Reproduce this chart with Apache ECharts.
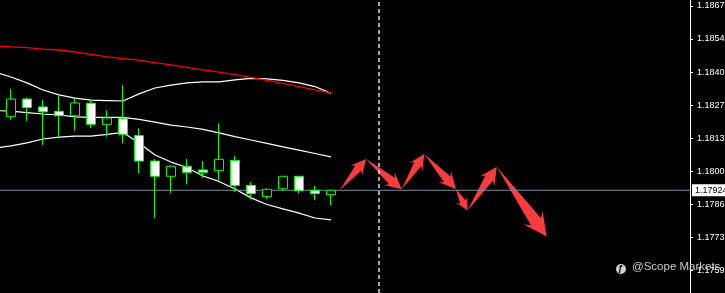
<!DOCTYPE html>
<html>
<head>
<meta charset="utf-8">
<script src="https://cdn.jsdelivr.net/npm/echarts/dist/echarts.min.js"></script>
<style>
  html, body { margin: 0; padding: 0; background: #000; }
  #chart { width: 725px; height: 293px; }
</style>
</head>
<body>
<div id="chart"></div>
<script>
// 蜡烛图 [open, close, low, high]
var candles = [
  [1.18223, 1.18243, 1.18215, 1.18251],
  [1.18224, 1.18296, 1.18211, 1.18337],
  [1.18296, 1.18261, 1.18207, 1.18302],
  [1.18264, 1.18244, 1.18109, 1.18292],
  [1.18246, 1.18228, 1.18139, 1.18310],
  [1.18228, 1.18280, 1.18167, 1.18299],
  [1.18279, 1.18193, 1.18177, 1.18296],
  [1.18193, 1.18219, 1.18143, 1.18251],
  [1.18218, 1.18152, 1.18116, 1.18353],
  [1.18147, 1.18043, 1.17993, 1.18177],
  [1.18043, 1.17981, 1.17810, 1.18052],
  [1.17981, 1.18022, 1.17912, 1.18027],
  [1.18022, 1.17997, 1.17948, 1.18052],
  [1.18007, 1.17997, 1.17974, 1.18043],
  [1.18004, 1.18050, 1.17966, 1.18197],
  [1.18046, 1.17943, 1.17917, 1.18064],
  [1.17944, 1.17910, 1.17887, 1.17958],
  [1.17898, 1.17928, 1.17889, 1.17932],
  [1.17930, 1.17981, 1.17922, 1.17981],
  [1.17981, 1.17922, 1.17910, 1.17981],
  [1.17924, 1.17910, 1.17884, 1.17942],
  [1.17906, 1.17924, 1.17864, 1.17924]
];
// 布林带
var upperBand = [1.18406, 1.18386, 1.18362, 1.18333, 1.18313, 1.18300, 1.18292, 1.18290, 1.18288, 1.18317, 1.18341,
  1.18353, 1.18362, 1.18366, 1.18366, 1.18374, 1.18380, 1.18378, 1.18372, 1.18362, 1.18347, 1.18319];
var middleBand = [1.18249, 1.18247, 1.18241, 1.18235, 1.18231, 1.18223, 1.18221, 1.18221, 1.18221, 1.18213, 1.18202,
  1.18190, 1.18182, 1.18172, 1.18158, 1.18143, 1.18129, 1.18115, 1.18101, 1.18088, 1.18074, 1.18060];
var lowerBand = [1.18096, 1.18105, 1.18117, 1.18133, 1.18141, 1.18145, 1.18145, 1.18152, 1.18160, 1.18117, 1.18068,
  1.18039, 1.18017, 1.17982, 1.17960, 1.17929, 1.17893, 1.17866, 1.17848, 1.17831, 1.17811, 1.17803];
// 均线
var maRed = [1.18513, 1.18509, 1.18506, 1.18500, 1.18496, 1.18488, 1.18478, 1.18468, 1.18461, 1.18455, 1.18445,
  1.18435, 1.18425, 1.18415, 1.18406, 1.18396, 1.18384, 1.18372, 1.18360, 1.18347, 1.18333, 1.18321];
var priceTicks = [1.17596, 1.17731, 1.17866, 1.18001, 1.18136, 1.18271, 1.18406, 1.18541, 1.18676];
var lastPrice = 1.17924;
var futureBar = 24;
// 预测箭头路径 [bar, price]
var arrowPath = [[21.56, 1.17925], [23.19, 1.18052], [25.42, 1.17928], [26.83, 1.18072],
  [28.81, 1.17929], [29.54, 1.17841], [31.36, 1.18020], [34.48, 1.17735]];

(function () {
  var myChart = echarts.init(document.getElementById("chart"));
  var font = "Liberation Sans, Arial, sans-serif";
  var xMin = 0.3125, xMax = 43.4375, yMin = 1.17505, yMax = 1.187;

  function withIndex(arr) {
    return arr.map(function (v, i) { return [i, v]; });
  }
  var arrowSegs = [];
  for (var k = 0; k < arrowPath.length - 1; k++) {
    arrowSegs.push([arrowPath[k][0], arrowPath[k][1], arrowPath[k + 1][0], arrowPath[k + 1][1]]);
  }
  const bandStyle = { color: "#ffffff", width: 1.2 };

  option = {
    animation: false,
    backgroundColor: "#000000",
    grid: { left: 0, right: 35, top: 0, bottom: 0, containLabel: false, outerBoundsMode: "none" },
    xAxis: {
      type: "value",
      min: xMin,
      max: xMax,
      show: false,
    },
    yAxis: {
      type: "value",
      position: "right",
      min: yMin,
      max: yMax,
      axisLine: { show: true, lineStyle: { color: "#ffffff", width: 1 } },
      axisTick: { show: true, length: 3, customValues: priceTicks, lineStyle: { color: "#ffffff" } },
      splitLine: { show: false },
      axisLabel: {
        customValues: priceTicks,
        margin: 7,
        color: "#ffffff",
        fontSize: 9,
        fontFamily: font,
        formatter: function (v) { return v.toFixed(5); },
      },
    },
    graphic: [
      { type: "circle", left: 616, top: 264, shape: { r: 5 }, style: { fill: "#d0d0d0" }, z: 1 },
      { type: "text", left: 618, top: 264, style: { text: "ƒ", fill: "#000", font: "bold 9px " + font }, z: 2 },
      { type: "text", left: 632, top: 261, style: { text: "@Scope Markets", fill: "#cccccc", font: "11.5px " + font }, z: 1 },
    ],
    series: [
      {
        type: "custom",
        z: 1,
        data: arrowSegs,
        renderItem: function (params, api) {
          var a = api.coord([api.value(0), api.value(1)]);
          var b = api.coord([api.value(2), api.value(3)]);
          var dx = b[0] - a[0], dy = b[1] - a[1];
          var len = Math.sqrt(dx * dx + dy * dy);
          var ux = dx / len, uy = dy / len, nx = -uy, ny = ux;
          var h = 8 + 0.18 * len, hw = 0.5 * h, bw = 0.26 * h;
          // 箭头颈部稍靠前，倒钩向后
          var jx = b[0] - ux * h * 0.78, jy = b[1] - uy * h * 0.78;
          var bx = b[0] - ux * h, by = b[1] - uy * h;
          return {
            type: "polygon",
            shape: {
              points: [a, [jx + nx * bw, jy + ny * bw], [bx + nx * hw, by + ny * hw], b,
                [bx - nx * hw, by - ny * hw], [jx - nx * bw, jy - ny * bw]],
            },
            style: { fill: "#fa3c3c" },
          };
        },
      },
      { type: "line", z: 2, data: withIndex(upperBand), showSymbol: false, lineStyle: bandStyle },
      { type: "line", z: 2, data: withIndex(middleBand), showSymbol: false, lineStyle: bandStyle },
      { type: "line", z: 2, data: withIndex(lowerBand), showSymbol: false, lineStyle: bandStyle },
      { type: "line", z: 2, data: withIndex(maRed), showSymbol: false, lineStyle: { color: "#ff0000", width: 1.3 } },
      {
        type: "line",
        z: 3,
        data: [[futureBar, yMin], [futureBar, yMax]],
        showSymbol: false,
        lineStyle: { color: "#ffffff", type: [4, 3], width: 1.3 },
      },
      {
        type: "line",
        z: 3,
        data: [[xMin, lastPrice], [xMax, lastPrice]],
        showSymbol: false,
        clip: false,
        lineStyle: { color: "#7d8ea3", width: 1 },
        endLabel: {
          show: true,
          distance: 2,
          formatter: lastPrice.toFixed(5),
          color: "#000000",
          backgroundColor: "#ffffff",
          padding: [2, 3, 1, 3],
          fontSize: 9,
          fontFamily: font,
        },
      },
      {
        type: "candlestick",
        z: 4,
        barWidth: 10,
        encode: { x: 0, y: [1, 2, 3, 4] },
        data: candles.map(function (c, i) { return [i].concat(c); }),
        itemStyle: {
          color: "#000000",
          color0: "#ffffff",
          borderColor: "#00ff00",
          borderColor0: "#00ff00",
          borderWidth: 1,
        },
      },
    ],
  };
  myChart.setOption(option);
  window.addEventListener("resize", function () {
    myChart.resize();
  });
})();
</script>
</body>
</html>
